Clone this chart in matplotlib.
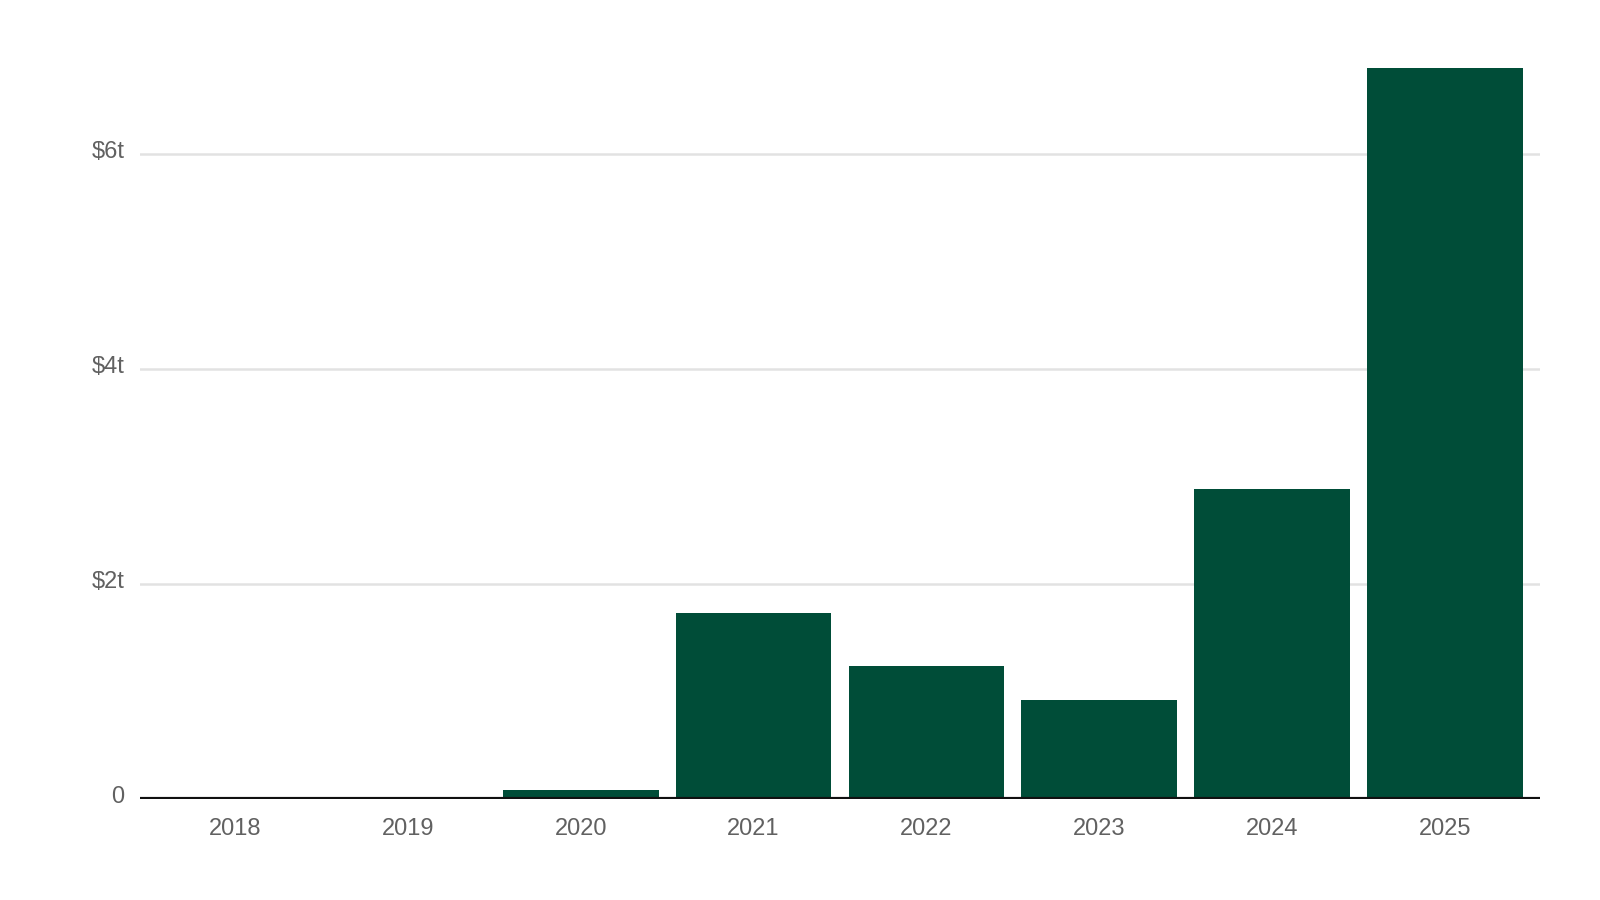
import matplotlib.pyplot as plt
import matplotlib.transforms as mtransforms
from matplotlib.ticker import FuncFormatter

# Werte (Billionen Dollar)
years = ["2018", "2019", "2020", "2021", "2022", "2023", "2024", "2025"]
values = [0.0, 0.0, 0.085, 1.73, 1.24, 0.92, 2.88, 6.80]
y_ticks = [0, 2, 4, 6]

plt.rcParams['font.family'] = ['Liberation Sans', 'DejaVu Sans']

fig = plt.figure(figsize=(16, 9), dpi=100)
ax = fig.add_axes([0.0875, 0.1122, 0.875, 0.8361])

x = range(len(years))
ax.bar(x, values, width=0.9, color="#004d38", zorder=3)

ax.set_xlim(-0.55, len(years) - 0.45)
ax.set_ylim(0, 7.0)
ax.set_xticks(list(x))
ax.set_xticklabels(years)
ax.set_yticks(y_ticks)
ax.yaxis.set_major_formatter(FuncFormatter(lambda v, p: "0" if v == 0 else f"${v:.0f}t"))

ax.grid(axis="y", color="#e2e2e2", linewidth=1.8, zorder=0)
ax.axhline(0, color="#111111", linewidth=3.0, zorder=4)

for s in ax.spines.values():
    s.set_visible(False)
ax.tick_params(axis="both", length=0, labelsize=17, labelcolor="#616161")
ax.tick_params(axis="x", pad=13.5)
ax.tick_params(axis="y", pad=11)

# y-Beschriftungen leicht nach oben verschieben
shift = mtransforms.ScaledTranslation(0, 3 / 72, fig.dpi_scale_trans)
for lbl in ax.get_yticklabels():
    lbl.set_transform(lbl.get_transform() + shift)

fig.savefig("out.png", dpi=100)
